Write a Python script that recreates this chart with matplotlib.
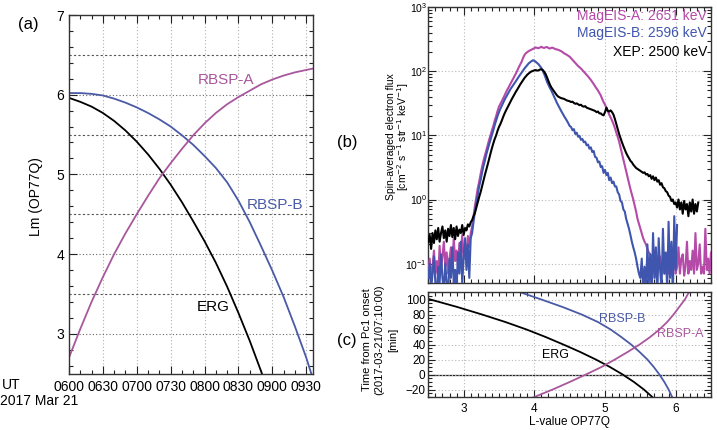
import numpy as np
import matplotlib
matplotlib.use("Agg")
import matplotlib.pyplot as plt
from matplotlib.ticker import MultipleLocator, LogLocator, NullFormatter, FixedLocator, FixedFormatter

plt.rcParams['font.family'] = ['Liberation Sans', 'DejaVu Sans']

# ---------------- data ----------------
# panel (a): minutes after 0600 UT, 2017 Mar 21
time_min = [0, 10, 20, 30, 40, 50, 60, 70, 80, 90, 100, 110, 120, 130, 140, 150,
            160, 170, 180, 190, 200, 210, 220]
lm_erg = [5.96, 5.91, 5.85, 5.77, 5.67, 5.55, 5.41, 5.25, 5.07, 4.87, 4.65, 4.41,
          4.16, 3.89, 3.59, 3.26, 2.91, 2.53, 2.12, 1.7, 1.3, 0.9, 0.5]
lm_rbspb = [6.02, 6.02, 6.01, 5.99, 5.95, 5.90, 5.84, 5.77, 5.69, 5.60, 5.49, 5.37,
            5.23, 5.08, 4.90, 4.67, 4.40, 4.10, 3.79, 3.46, 3.09, 2.70, 2.25]
lm_rbspa = [2.70, 3.06, 3.40, 3.71, 4.00, 4.26, 4.50, 4.73, 4.95, 5.14, 5.32, 5.49,
            5.64, 5.77, 5.88, 5.97, 6.05, 6.13, 6.19, 6.24, 6.28, 6.31, 6.34]
time_ticks = [0, 30, 60, 90, 120, 150, 180, 210]
time_labels = ['0600', '0630', '0700', '0730', '0800', '0830', '0900', '0930']
onset_min = 70  # 07:10 UT

# panel (b): spin-averaged flux vs L (samples start at L=2.5, step 0.02)
L_start, L_step = 2.5, 0.02
flux_xep = [
    0.22, 0.28, 0.17, 0.30, 0.21, 0.33, 0.24, 0.36, 0.22, 0.30,   # 2.50
    0.38, 0.25, 0.33, 0.22, 0.35, 0.27, 0.40, 0.26, 0.36, 0.24,   # 2.70
    0.38, 0.27, 0.34, 0.30, 0.40, 0.28, 0.36, 0.33, 0.41, 0.38,   # 2.90
    0.44, 0.48, 0.55, 0.62, 0.75, 0.9, 1.1, 1.3, 1.6, 2.0,        # 3.10
    2.4, 2.9, 3.5, 4.3, 5.2, 6.3, 7.5, 8.8, 10, 11.8,             # 3.30
    13.5, 15, 17, 19.5, 22, 24.5, 27, 30, 33, 36.5,               # 3.50
    40, 44, 48, 52, 57, 62, 67, 72, 78, 83,                       # 3.70
    88, 92, 96, 99, 101, 103, 104, 102, 103, 106,                 # 3.90
    107, 104, 98, 90, 80, 70, 62, 56, 52, 48,                     # 4.10
    45, 42, 40, 39, 38, 37.5, 37, 36, 35, 34.5,                   # 4.30
    34, 33, 33.5, 32, 31, 31.5, 30.5, 29.5, 30, 28.5,             # 4.50
    28, 28.5, 27, 26.5, 26, 25.5, 25, 24.5, 24, 23,               # 4.70
    23.5, 22, 22, 21, 20.5, 23, 27, 24, 23.5, 24.5,               # 4.90
    23, 21, 18, 15, 12.5, 10.5, 9, 7.8, 6.8, 6,                   # 5.10
    5.3, 4.8, 4.4, 4.0, 3.8, 3.5, 3.3, 3.1, 3.0, 2.9,             # 5.30
    2.8, 2.7, 2.6, 2.65, 2.45, 2.5, 2.3, 2.4, 2.1, 2.3,           # 5.50
    2.0, 2.2, 1.9, 2.0, 1.7, 1.8, 1.55, 1.5, 1.35, 1.3,           # 5.70
    1.15, 1.1, 0.95, 1.0, 0.85, 0.9, 0.75, 1.0, 0.7, 0.9,         # 5.90
    0.6, 0.95, 0.7, 0.85, 0.55, 0.9, 0.65, 1.0, 0.6, 0.85,        # 6.10
    0.65, 0.9]                                                    # 6.30
flux_magA = [
    0.07, 0.12, 0.06, 0.09, 0.16, 0.07, 0.11, 0.06, 0.19, 0.08,   # 2.50
    0.13, 0.22, 0.09, 0.15, 0.07, 0.12, 0.18, 0.09, 0.25, 0.11,   # 2.70
    0.16, 0.09, 0.21, 0.13, 0.28, 0.12, 0.19, 0.15, 0.27, 0.18,   # 2.90
    0.30, 0.38, 0.55, 0.8, 1.1, 1.5, 1.9, 2.5, 3.2, 4.0,          # 3.10
    4.8, 5.8, 7, 8.5, 10, 12, 14, 17, 20, 24,                     # 3.30
    28, 31, 34, 38, 42, 47, 52, 57, 63, 69,                       # 3.50
    76, 84, 92, 103, 115, 127, 140, 160, 178, 190,                # 3.70
    198, 205, 211, 216, 222, 228, 235, 230, 228, 234,             # 3.90
    240, 233, 230, 236, 238, 229, 225, 231, 232, 226,             # 4.10
    220, 218, 215, 210, 205, 198, 190, 185, 180, 174,             # 4.30
    168, 159, 150, 142, 135, 127, 120, 115, 110, 104,             # 4.50
    98, 93, 88, 83, 78, 73, 68, 63, 58, 54,                       # 4.70
    50, 46, 42, 37, 33, 30, 27, 24, 21, 19,                       # 4.90
    17, 15, 13, 11, 9.5, 8, 6.5, 5.2, 4.2, 3.4,                   # 5.10
    2.7, 2.2, 1.8, 1.45, 1.2, 1.0, 0.8, 0.65, 0.5, 0.42,          # 5.30
    0.35, 0.3, 0.25, 0.22, 0.2, 0.17, 0.15, 0.14, 0.13, 0.12,     # 5.50
    0.11, 0.10, 0.09, 0.12, 0.13, 0.08, 0.10, 0.07, 0.12, 0.09,   # 5.70
    0.07, 0.11, 0.10, 0.08, 0.14, 0.07, 0.09, 0.18, 0.07, 0.12,   # 5.90
    0.14, 0.065, 0.09, 0.22, 0.07, 0.11, 0.08, 0.16, 0.07, 0.30,  # 6.10
    0.08, 0.10, 0.20, 0.07, 0.09, 0.07, 0.35, 0.08, 0.12, 0.07,   # 6.30
    0.15]                                                         # 6.50
flux_magB = [
    0.06, 0.10, 0.04, 0.07, 0.13, 0.05, 0.03, 0.09, 0.05, 0.14,   # 2.50
    0.06, 0.04, 0.10, 0.05, 0.03, 0.12, 0.06, 0.18, 0.05, 0.08,   # 2.70
    0.04, 0.15, 0.07, 0.22, 0.05, 0.12, 0.25, 0.08, 0.20, 0.06,   # 2.90
    0.25, 0.30, 0.45, 0.65, 0.9, 1.2, 1.6, 2.0, 2.6, 3.3,         # 3.10
    4, 5, 6, 7.2, 8.5, 10, 12, 14.5, 17, 20,                      # 3.30
    23, 26, 29, 32.5, 36, 39.5, 43, 47.5, 52, 56,                 # 3.50
    60, 65, 70, 76, 82, 88, 95, 102, 110, 117,                    # 3.70
    125, 132, 138, 143, 148, 145, 140, 134, 128, 120,             # 3.90
    112, 101, 90, 79, 68, 61, 55, 50, 45, 40,                     # 4.10
    36, 32, 29, 26.5, 24, 22, 20, 18.5, 17, 15.5,                 # 4.30
    14, 13.5, 12, 12.5, 10.5, 11, 9.5, 9.8, 8.5, 8.8,             # 4.50
    7.8, 8, 7, 7.2, 6.2, 6.5, 5.5, 5.7, 4.6, 4.5,                 # 4.70
    3.8, 3.9, 3.2, 3.3, 2.6, 2.9, 2.4, 2.6, 2.0, 2.2,             # 4.90
    1.8, 1.9, 1.6, 1.6, 1.3, 1.2, 0.95, 0.9, 0.7, 0.65,           # 5.10
    0.5, 0.42, 0.35, 0.28, 0.22, 0.18, 0.15, 0.12, 0.09, 0.07,    # 5.30
    0.06, 0.12, 0.04, 0.09, 0.03, 0.20, 0.05, 0.14, 0.03, 0.30,   # 5.50
    0.06, 0.18, 0.03, 0.25, 0.08, 0.04, 0.35, 0.07, 0.15, 0.04,   # 5.70
    0.45, 0.06, 0.22, 0.03, 0.55, 0.08, 0.40]                     # 5.90
legend_texts = ['MagEIS-A: 2651 keV', 'MagEIS-B: 2596 keV', 'XEP: 2500 keV']

# ---------------- style ----------------
c_mag_line = '#a8579c'
c_blue_line = '#4a5aa6'
c_mag = '#b54aa8'
c_blue = '#3f55ae'

fig = plt.figure(figsize=(7.17, 4.30), dpi=100)
W, H = 717.0, 430.0


def px_axes(l, t, r, b):
    return fig.add_axes([l / W, 1 - b / H, (r - l) / W, (b - t) / H])


def style_ticks(ax, size):
    ax.tick_params(which='both', direction='in', top=True, right=True,
                   labelsize=size, width=0.8, colors='#222222', labelcolor='black')
    ax.tick_params(which='major', length=6)
    ax.tick_params(which='minor', length=3)
    for s in ax.spines.values():
        s.set_linewidth(1.0)
        s.set_color('#333333')


# ---------------- panel (a) ----------------
axa = px_axes(69, 15, 313, 373.5)
axa.plot(time_min, lm_erg, color='black', lw=1.3)
axa.plot(time_min, lm_rbspb, color=c_blue_line, lw=1.3)
axa.plot(time_min, lm_rbspa, color=c_mag_line, lw=1.3)
axa.set_xlim(0, 216)
axa.set_ylim(2.5, 7)
axa.xaxis.set_major_locator(FixedLocator(time_ticks))
axa.xaxis.set_major_formatter(FixedFormatter(time_labels))
axa.xaxis.set_minor_locator(MultipleLocator(10))
axa.yaxis.set_major_locator(MultipleLocator(1))
axa.yaxis.set_minor_locator(MultipleLocator(0.2))
style_ticks(axa, 10)
axa.tick_params(axis='x', pad=5)
for x in time_ticks[1:]:
    axa.axvline(x, color='#b0b0b0', lw=0.8, ls=(0, (1, 2)), zorder=0)
for y in [3, 4, 5, 6]:
    axa.axhline(y, color='#666666', lw=0.8, ls=(0, (1, 2)), zorder=0)
for y in [3.5, 4.5, 5.5, 6.5]:
    axa.axhline(y, color='#555555', lw=0.8, ls=(0, (2, 2)), zorder=0)
axa.text(139, 6.18, 'RBSP-A', color=c_mag_line, fontsize=11, ha='center', va='center')
axa.text(182, 4.61, 'RBSP-B', color=c_blue_line, fontsize=11, ha='center', va='center')
axa.text(128, 3.34, 'ERG', color='black', fontsize=11, ha='center', va='center')
fig.text(36 / W, 1 - 197 / H, 'Lm (OP77Q)', rotation=90, ha='center', va='center', fontsize=10)
fig.text(2 / W, 1 - 385 / H, 'UT', ha='left', va='center', fontsize=10)
fig.text(0 / W, 1 - 401 / H, '2017 Mar 21', ha='left', va='center', fontsize=10)
fig.text(28 / W, 1 - 24 / H, '(a)', ha='center', va='center', fontsize=12)
fig.text(347 / W, 1 - 142 / H, '(b)', ha='center', va='center', fontsize=12)
fig.text(347 / W, 1 - 340 / H, '(c)', ha='center', va='center', fontsize=12)

# ---------------- panel (b) ----------------
axb = px_axes(428.3, 7, 711, 283)
L_xep = L_start + L_step * np.arange(len(flux_xep))
L_a = L_start + L_step * np.arange(len(flux_magA))
L_b = L_start + L_step * np.arange(len(flux_magB))
axb.plot(L_a, flux_magA, color=c_mag, lw=1.5, zorder=3)
axb.plot(L_b, flux_magB, color=c_blue, lw=1.5, zorder=4)
axb.plot(L_xep, flux_xep, color='black', lw=1.5, zorder=5)
axb.set_yscale('log')
axb.set_xlim(2.5, 6.5)
axb.set_ylim(0.05, 1000)
axb.xaxis.set_major_locator(MultipleLocator(1))
axb.xaxis.set_minor_locator(MultipleLocator(0.1))
axb.xaxis.set_major_formatter(NullFormatter())
axb.yaxis.set_major_locator(LogLocator(base=10, numticks=10))
axb.yaxis.set_minor_locator(LogLocator(base=10, subs=np.arange(2, 10), numticks=20))
axb.yaxis.set_minor_formatter(NullFormatter())
style_ticks(axb, 7.5)
axb.tick_params(axis='y', pad=1)
axb.grid(True, which='major', color='#b8b8b8', lw=0.8, ls=(0, (1, 2)), zorder=0)
legend_colors = [c_mag, c_blue, 'black']
legend_y = [0.967, 0.906, 0.837]
for txt, col, yy in zip(legend_texts, legend_colors, legend_y):
    axb.text(0.986, yy, txt, color=col, fontsize=10, ha='right', va='center',
             transform=axb.transAxes, zorder=6)
fig.text(391 / W, 1 - 137 / H, 'Spin-averaged electron flux', rotation=90,
         ha='center', va='center', fontsize=7.5)
fig.text(403 / W, 1 - 137 / H,
         r'[cm$^{-2}$ s$^{-1}$ str$^{-1}$ keV$^{-1}$]', rotation=90,
         ha='center', va='center', fontsize=7.5)

# ---------------- panel (c) ----------------
axc = px_axes(428.3, 292, 711, 397)
t_rel = np.array(time_min) - onset_min
axc.plot(lm_erg, t_rel, color='black', lw=1.3)
axc.plot(lm_rbspb, t_rel, color=c_blue_line, lw=1.3)
axc.plot(lm_rbspa, t_rel, color=c_mag_line, lw=1.3)
axc.axhline(0, color='#222222', lw=0.9, zorder=1)
axc.set_xlim(2.5, 6.5)
axc.set_ylim(-30, 110)
axc.xaxis.set_major_locator(MultipleLocator(1))
axc.xaxis.set_minor_locator(MultipleLocator(0.1))
axc.yaxis.set_major_locator(MultipleLocator(20))
axc.yaxis.set_minor_locator(MultipleLocator(5))
style_ticks(axc, 8.5)
axc.tick_params(which='major', length=5)
axc.tick_params(axis='x', pad=4)
axc.tick_params(axis='y', pad=2)
axc.grid(True, which='major', color='#b8b8b8', lw=0.8, ls=(0, (1, 2)), zorder=0)
axc.set_xlabel('L-value OP77Q', fontsize=8.5, labelpad=1)
axc.text(5.24, 73.7, 'RBSP-B', color=c_blue_line, fontsize=9, ha='center', va='center')
axc.text(6.07, 54, 'RBSP-A', color=c_mag_line, fontsize=9, ha='center', va='center')
axc.text(4.30, 26, 'ERG', color='black', fontsize=9, ha='center', va='center')
fig.text(367 / W, 1 - 340 / H, 'Time from Pc1 onset', rotation=90,
         ha='center', va='center', fontsize=8)
fig.text(379 / W, 1 - 340 / H, '(2017-03-21/07:10:00)', rotation=90,
         ha='center', va='center', fontsize=8)
fig.text(393 / W, 1 - 340 / H, '[min]', rotation=90,
         ha='center', va='center', fontsize=8)

fig.savefig('out.png', dpi=100)
